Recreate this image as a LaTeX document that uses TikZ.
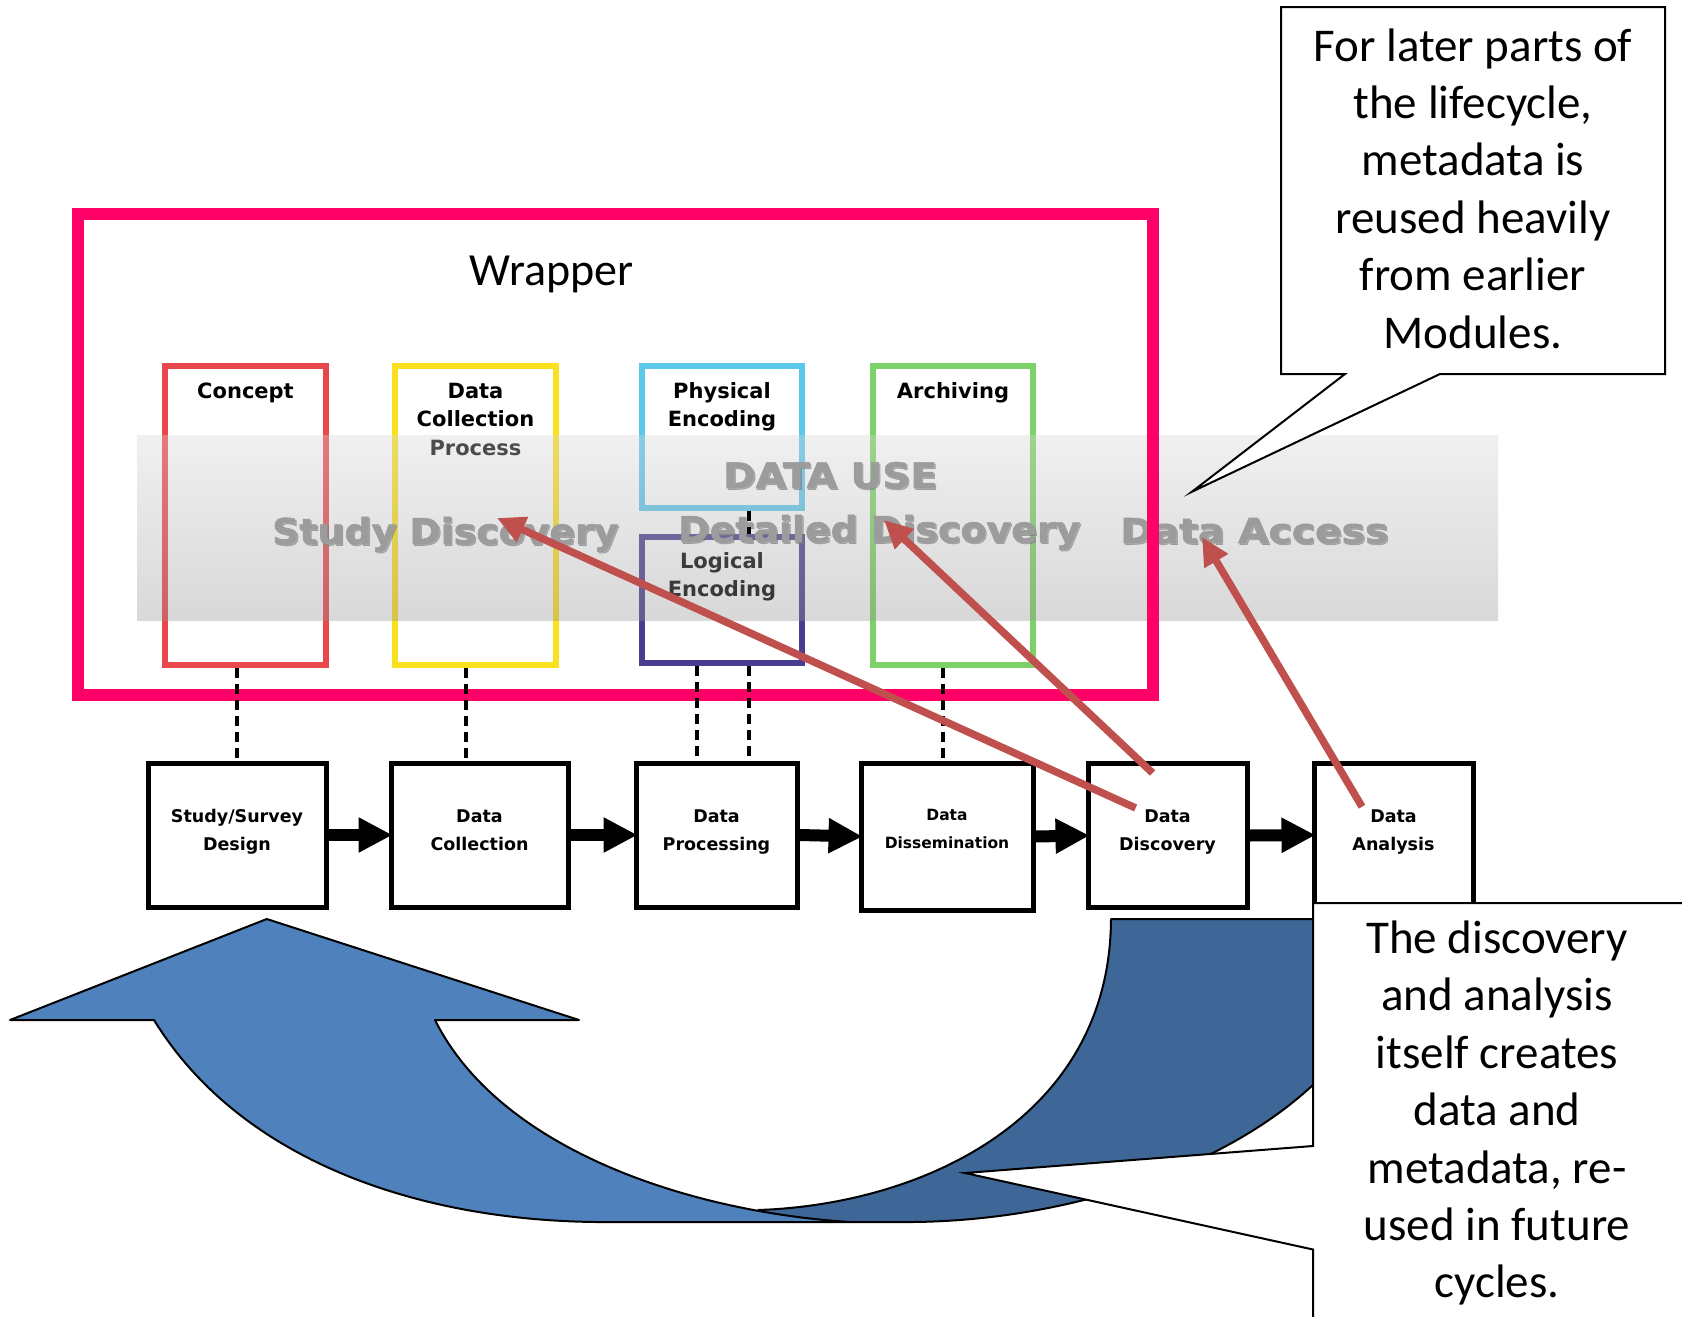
\documentclass[tikz,border=0pt]{standalone}
\usepackage{fontspec}
\usepackage{graphicx}
\setmainfont{Carlito}
\newfontfamily\labelfont{DejaVu Sans}
\newfontfamily\heavyfont{DejaVu Sans}[BoldFeatures={FakeBold=1.6}]
\usetikzlibrary{arrows.meta,calc}

\definecolor{wrapPink}{HTML}{FF0066}
\definecolor{conceptRed}{RGB}{232,72,76}
\definecolor{collectYellow}{RGB}{250,224,30}
\definecolor{physCyan}{RGB}{92,200,236}
\definecolor{logiPurple}{RGB}{74,60,145}
\definecolor{archGreen}{RGB}{124,210,104}
\definecolor{reuseRed}{HTML}{C0504D}
\definecolor{frontBlue}{HTML}{4F81BD}
\definecolor{backBlue}{RGB}{62,103,151}
\definecolor{useGrey}{RGB}{156,156,156}
\definecolor{useShadow}{RGB}{120,120,120}
\definecolor{bandTop}{RGB}{214,214,214}
\definecolor{bandMid}{RGB}{202,202,202}
\definecolor{bandBot}{RGB}{150,148,148}

% centred lines whose baseline is the baseline of the first line
\newcommand\linestack[1]{\begin{tabular}[t]{@{}c@{}}#1\end{tabular}}
% heavy band lettering stretched to a given width and height
\newcommand\usetext[3]{\resizebox{#1pt}{#2pt}{#3}}

\begin{document}
\begin{tikzpicture}[x=1pt,y=-1pt,
  topbox/.style={draw, fill=white, line width=5.5pt, inner sep=0pt, minimum width=161pt},
  toptitle/.style={anchor=base, inner sep=0pt, font=\labelfont\bfseries\fontsize{21}{28.5}\selectfont},
  stagebox/.style={draw=black, fill=white, line width=5pt, inner sep=0pt, minimum height=144pt},
  stagetitle/.style={anchor=base, inner sep=0pt, font=\labelfont\bfseries\fontsize{17.5}{28}\selectfont},
  flow/.style={line width=12pt, -{Triangle[length=34pt,width=33pt]}},
  dashconn/.style={line width=3.5pt, dash pattern=on 10pt off 6pt},
  reuse/.style={draw=reuseRed, line width=7.5pt, -{Triangle[length=28pt,width=26pt]}},
  usetxt/.style={anchor=base west, inner sep=0pt, text=useGrey, font=\heavyfont\bfseries},
  usesh/.style={anchor=base west, inner sep=0pt, text=useShadow, opacity=0.5, font=\heavyfont\bfseries},
  note/.style={anchor=base, inner sep=0pt, font=\fontsize{47}{57.4}\selectfont},
  callout/.style={draw=black, fill=white, line width=2pt, line join=miter},
  curve/.style={draw=black, line width=2pt, line join=round}
]
\useasboundingbox (0,0) rectangle (1682,1317);
\clip (0,0) rectangle (1682,1317);

% ---- metadata modules ----
\node[topbox, draw=conceptRed, minimum height=299pt] (concept) at (245.5,515.5) {};
\node[topbox, draw=collectYellow, minimum height=299pt] (dcoll) at (475.5,515.5) {};
\node[topbox, draw=physCyan, minimum width=160pt, minimum height=142pt] (phys) at (722,437) {};
\node[topbox, draw=logiPurple, minimum width=160pt, minimum height=126pt] (logi) at (722,600) {};
\node[topbox, draw=archGreen, minimum width=160pt, minimum height=299pt] (arch) at (953,515.5) {};

\node[toptitle] (concept-title) at ($(concept.north)+(0,35)$) {\linestack{Concept}};
\node[toptitle] (dcoll-title) at ($(dcoll.north)+(0,35)$) {\linestack{Data\\Collection\\Process}};
\node[toptitle] (phys-title) at ($(phys.north)+(0,35)$) {\linestack{Physical\\Encoding}};
\node[toptitle] (logi-title) at ($(logi.north)+(0,34)$) {\linestack{Logical\\Encoding}};
\node[toptitle] (arch-title) at ($(arch.north)+(0,35)$) {\linestack{Archiving}};

% ---- translucent data use band ----
\shade[top color=bandTop, middle color=bandMid, bottom color=bandBot, opacity=0.36]
  (137,435) rectangle (1498,620);

\node[usesh] (use-sh) at (724.5,489.5) {\usetext{214}{26}{DATA USE}};
\node[usetxt] (use) at (723,488) {\usetext{214}{26}{DATA USE}};
\node[usesh] (study-disc-sh) at (273.5,545.5) {\usetext{346}{27}{Study Discovery}};
\node[usetxt] (study-disc) at (272,544) {\usetext{346}{27}{Study Discovery}};
\node[usesh] (detail-disc-sh) at (679.5,543.5) {\usetext{402}{27}{Detailed Discovery}};
\node[usetxt] (detail-disc) at (678,542) {\usetext{402}{27}{Detailed Discovery}};
\node[usesh] (access-sh) at (1121.5,544.5) {\usetext{268}{25}{Data Access}};
\node[usetxt] (access) at (1120,543) {\usetext{268}{25}{Data Access}};

% ---- wrapper ----
\node[draw=wrapPink, line width=11.5pt, inner sep=0pt, minimum width=1075pt, minimum height=481pt]
  (wrapper) at (615.5,454.5) {};
\node[anchor=base, inner sep=0pt, font=\fontsize{46}{55}\selectfont] (wrapper-label) at (551.5,285) {Wrapper};

% ---- lifecycle stages ----
\node[stagebox, minimum width=178pt] (study) at (237,835) {};
\node[stagebox, minimum width=177pt] (bcoll) at (479.5,835) {};
\node[stagebox, minimum width=161pt] (proc) at (716.5,835) {};
\node[stagebox, minimum width=172pt, minimum height=147pt] (diss) at (947,836.5) {};
\node[stagebox, minimum width=159pt] (disc) at (1167.5,835.5) {};
\node[stagebox, minimum width=159pt] (anal) at (1393.5,835) {};

\node[stagetitle] (study-title) at ($(study.center)+(0,-13)$) {\linestack{Study/Survey\\Design}};
\node[stagetitle] (bcoll-title) at ($(bcoll.center)+(0,-13)$) {\linestack{Data\\Collection}};
\node[stagetitle] (proc-title) at ($(proc.center)+(0,-13)$) {\linestack{Data\\Processing}};
\node[stagetitle, font=\labelfont\bfseries\fontsize{15.5}{28}\selectfont] (diss-title) at ($(diss.center)+(0,-16.5)$) {\linestack{Data\\Dissemination}};
\node[stagetitle] (disc-title) at ($(disc.center)+(0,-13.5)$) {\linestack{Data\\Discovery}};
\node[stagetitle] (anal-title) at ($(anal.center)+(0,-13)$) {\linestack{Data\\Analysis}};

% ---- module to stage links ----
\coordinate (d1) at (237,0);
\coordinate (d2) at (466,0);
\coordinate (d3) at (697,0);
\coordinate (d4) at (749,0);
\coordinate (d5) at (943,0);
\draw[dashconn] (concept.south -| d1) -- (study.north -| d1);
\draw[dashconn] (dcoll.south -| d2) -- (bcoll.north -| d2);
\draw[dashconn] (logi.south -| d3) -- (proc.north -| d3);
\draw[dashconn] (phys.south -| d4) -- (logi.north -| d4) (logi.south -| d4) -- (proc.north -| d4);
\draw[dashconn] (arch.south -| d5) -- (diss.north -| d5);

% ---- stage flow ----
\draw[flow] (study.east) -- ([xshift=4pt]bcoll.west);
\draw[flow] (bcoll.east) -- ([xshift=4pt]proc.west);
\draw[flow] (proc.east) -- ([xshift=4pt]diss.west);
\draw[flow] (diss.east) -- ([xshift=4pt]disc.west);
\draw[flow] (disc.east) -- ([xshift=4pt]anal.west);

% ---- reuse arrows ----
\coordinate (r1s) at (1135.6,808);
\coordinate (r1e) at (497,518);
\coordinate (r2s) at (1152.6,773);
\coordinate (r2e) at (884,520);
\coordinate (r3s) at (1362,806.7);
\coordinate (r3e) at (1202,537);
\draw[reuse] (r1s) -- (r1e);
\draw[reuse] (r2s) -- (r2e);
\draw[reuse] (r3s) -- (r3e);

% ---- curved return arrow ----
\fill[backBlue] (1111,919) .. controls (1110,1120) and (920,1205) .. (757.6,1210)
  -- (800,1221) -- (900,1222) .. controls (1120,1224) and (1380,1120) .. (1400,919) -- cycle;
\draw[curve] (850,1222) -- (900,1222) .. controls (1120,1224) and (1380,1120) .. (1400,919)
  -- (1111,919) .. controls (1110,1120) and (920,1205) .. (757.6,1210);
\filldraw[curve, fill=frontBlue] (266.8,919) -- (579,1020) -- (435,1020)
  .. controls (500,1150) and (690,1212) .. (850,1222) -- (614,1222)
  .. controls (420,1224) and (240,1160) .. (154,1020) -- (10,1020) -- cycle;

% ---- callouts ----
\filldraw[callout] (1281,7) -- (1665,7) -- (1665,374) -- (1440,374) -- (1192,491.7)
  -- (1345,374) -- (1281,374) -- cycle;
\node[note] (note-top) at (1473,61)
  {\linestack{For later parts of\\the lifecycle,\\metadata is\\reused heavily\\from earlier\\Modules.}};

\filldraw[callout] (1313,903) -- (1700,903) -- (1700,1330) -- (1313,1330) -- (1313,1249.5)
  -- (965,1173) -- (1313,1146) -- cycle;
\node[note] (note-bottom) at (1497,953.5)
  {\linestack{The discovery\\and analysis\\itself creates\\data and\\metadata, re-\\used in future\\cycles.}};
\end{tikzpicture}
\end{document}
